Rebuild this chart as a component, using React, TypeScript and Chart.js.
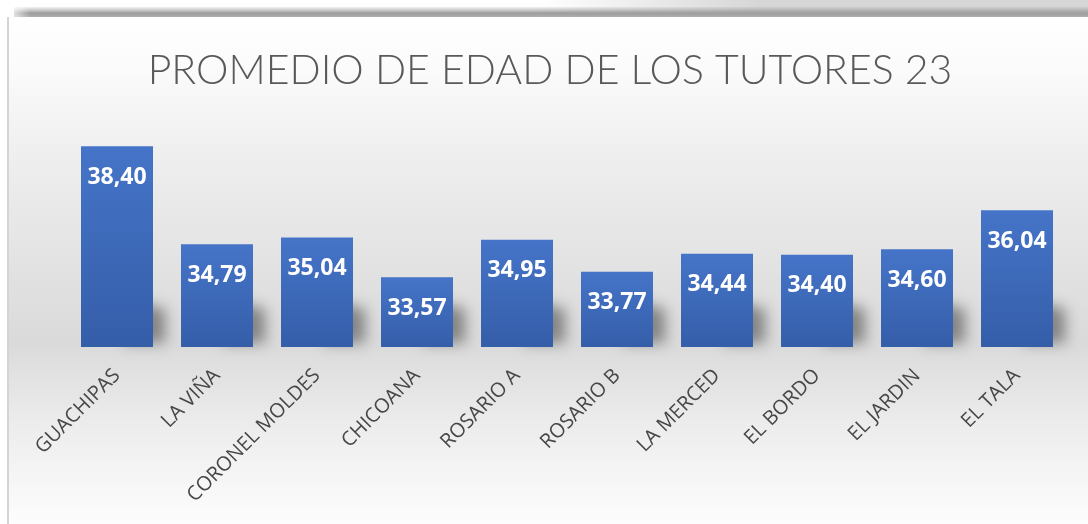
import React, { useEffect, useRef } from "react";
import { Chart, registerables } from "chart.js";

Chart.register(...registerables);

const TITLE = "PROMEDIO DE EDAD DE LOS TUTORES 23";
const categories = [
  "GUACHIPAS",
  "LA VIÑA",
  "CORONEL MOLDES",
  "CHICOANA",
  "ROSARIO A",
  "ROSARIO B",
  "LA MERCED",
  "EL BORDO",
  "EL JARDIN",
  "EL TALA",
];
const ages = [38.4, 34.79, 35.04, 33.57, 34.95, 33.77, 34.44, 34.4, 34.6, 36.04];
const yMin = 31;
const yMax = 39;

const W = 1088;
const H = 524;

const backgroundPlugin = {
  id: "bgPanel",
  beforeDraw(chart: any) {
    const ctx = chart.ctx as CanvasRenderingContext2D;
    ctx.save();
    ctx.fillStyle = "#ffffff";
    ctx.fillRect(0, 0, W, H);

    const hb = ctx.createLinearGradient(540, 0, 760, 0);
    hb.addColorStop(0, "rgba(214,214,214,0)");
    hb.addColorStop(1, "rgba(214,214,214,1)");
    ctx.fillStyle = hb;
    ctx.fillRect(540, 0, W - 540, 12);

    const sh = ctx.createLinearGradient(0, 7, 0, 17);
    sh.addColorStop(0, "rgba(160,160,160,0.15)");
    sh.addColorStop(0.6, "rgba(140,140,140,0.85)");
    sh.addColorStop(1, "rgba(175,175,175,1)");
    ctx.fillStyle = sh;
    ctx.fillRect(14, 7, W - 14, 10);
    const shl = ctx.createLinearGradient(6, 0, 30, 0);
    shl.addColorStop(0, "rgba(255,255,255,1)");
    shl.addColorStop(1, "rgba(255,255,255,0)");
    ctx.fillStyle = shl;
    ctx.fillRect(6, 6, 24, 11);

    const g = ctx.createLinearGradient(0, 17, 0, H);
    g.addColorStop(0, "#ffffff");
    g.addColorStop(0.1, "#fbfbfb");
    g.addColorStop(0.25, "#f0f0f0");
    g.addColorStop(0.64, "#dadada");
    g.addColorStop(0.8, "#ececec");
    g.addColorStop(1, "#fdfdfd");
    ctx.fillStyle = g;
    ctx.fillRect(9, 17, W - 9, H - 17);

    ctx.fillStyle = "#d4d4d4";
    ctx.fillRect(7, 17, 2, H - 17);

    ctx.fillStyle = "#595959";
    ctx.font = "300 41px Lato, 'Open Sans', sans-serif";
    ctx.textAlign = "center";
    ctx.textBaseline = "alphabetic";
    ctx.fillText(TITLE, 550, 84);
    ctx.restore();
  },
};

const OFF = 3000;
const shadowPlugin = {
  id: "barShadow",
  beforeDatasetsDraw(chart: any) {
    const ctx = chart.ctx as CanvasRenderingContext2D;
    const meta = chart.getDatasetMeta(0);
    const ys = chart.scales.y;
    const base = ys.getPixelForValue(yMin);
    ctx.save();
    ctx.fillStyle = "#000000";
    ctx.shadowColor = "rgba(60,60,60,0.55)";
    ctx.shadowBlur = 14;
    ctx.shadowOffsetX = OFF;
    ctx.shadowOffsetY = 0;
    meta.data.forEach((bar: any, i: number) => {
      const top = ys.getPixelForValue(ages[i]);
      const w = bar.width || 72;
      const right = bar.x + w / 2 - OFF;
      const h = Math.min(base - top, 52);
      ctx.beginPath();
      ctx.moveTo(right - 30, base - 4);
      ctx.lineTo(right + 12, base - 4);
      ctx.lineTo(right + 12, base - h + 14);
      ctx.lineTo(right - 30, base - h + 4);
      ctx.closePath();
      ctx.fill();
    });
    ctx.restore();
  },
};

const labelPlugin = {
  id: "valueLabels",
  afterDatasetsDraw(chart: any) {
    const ctx = chart.ctx as CanvasRenderingContext2D;
    const meta = chart.getDatasetMeta(0);
    ctx.save();
    ctx.fillStyle = "#ffffff";
    ctx.font = "700 23px 'Open Sans', sans-serif";
    ctx.textAlign = "center";
    ctx.textBaseline = "middle";
    meta.data.forEach((bar: any, i: number) => {
      const txt = ages[i].toFixed(2).replace(".", ",");
      ctx.fillText(txt, bar.x, bar.y + 31);
    });
    ctx.restore();
  },
};

export default function App() {
  const ref = useRef<HTMLCanvasElement>(null);

  useEffect(() => {
    document.body.style.margin = "0";
    if (!ref.current) return;
    const chart = new Chart(ref.current, {
      type: "bar",
      data: {
        labels: categories,
        datasets: [
          {
            data: ages,
            backgroundColor: (c: any) => {
              const ch = c.chart;
              const ys = ch.scales && ch.scales.y;
              if (!ys || !ch.chartArea || c.raw == null) return "#4472c4";
              const top = ys.getPixelForValue(c.raw);
              const bottom = ys.getPixelForValue(yMin);
              if (!isFinite(top) || !isFinite(bottom) || bottom <= top) return "#4472c4";
              const gr = ch.ctx.createLinearGradient(0, top, 0, bottom);
              gr.addColorStop(0, "#4574c8");
              gr.addColorStop(1, "#355ea9");
              return gr;
            },
            borderWidth: 0,
            categoryPercentage: 0.72,
            barPercentage: 1,
          },
        ],
      },
      options: {
        responsive: false,
        animation: false,
        layout: { padding: { top: 130, left: 67, right: 21, bottom: 0 } },
        plugins: {
          legend: { display: false },
          title: { display: false },
          tooltip: { enabled: false },
        },
        scales: {
          y: { display: false, min: yMin, max: yMax },
          x: {
            grid: { display: false, drawTicks: false },
            border: { display: false },
            ticks: {
              autoSkip: false,
              maxRotation: 45,
              minRotation: 45,
              padding: 17,
              color: "#474747",
              font: { family: "'Open Sans', sans-serif", size: 20 },
            },
            afterFit: (scale: any) => {
              scale.height = 177;
            },
          },
        },
      },
      plugins: [backgroundPlugin, shadowPlugin, labelPlugin],
    });
    return () => chart.destroy();
  }, []);

  return (
    <div style={{ width: W, height: H }}>
      <canvas ref={ref} width={W} height={H} style={{ display: "block", width: W, height: H }} />
    </div>
  );
}
